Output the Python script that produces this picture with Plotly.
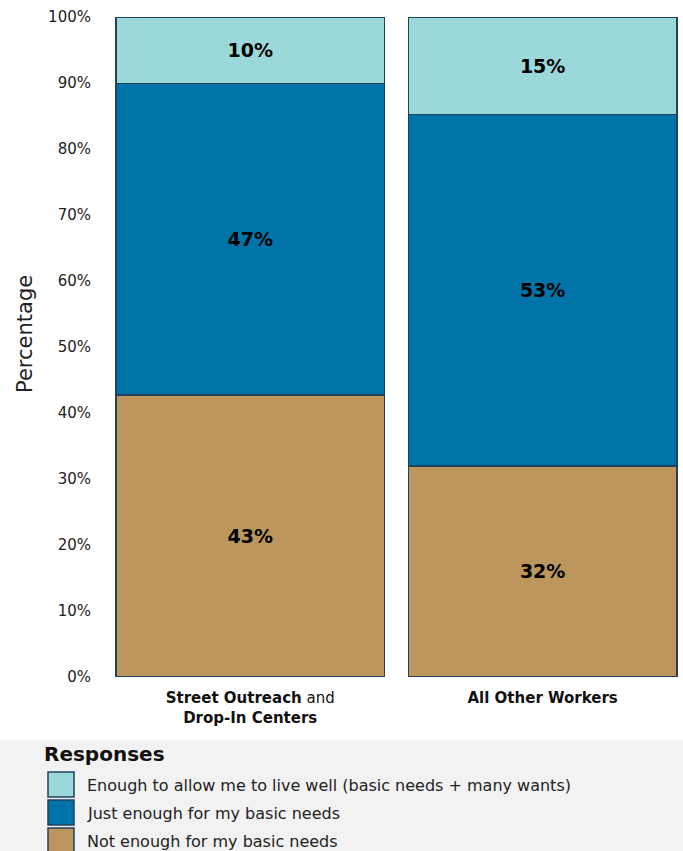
import plotly.graph_objects as go

categories = ["<b>Street Outreach</b> and<br><b>Drop-In Centers</b>", "<b>All Other Workers</b>"]
series_names = [
    "Not enough for my basic needs",
    "Just enough for my basic needs",
    "Enough to allow me to live well (basic needs + many wants)",
]
not_enough = [42.7, 32.0]
just_enough = [47.2, 53.2]
live_well = [10.1, 14.8]
series_values = [not_enough, just_enough, live_well]
colors = ["#BD965E", "#0074A9", "#9AD8DA"]
y_ticks = list(range(0, 101, 10))
y_tick_labels = [f"{v}%" for v in y_ticks]

W_FIG, H_FIG = 683, 851
L, R, T, B = 104, 0, 17, 174
PW = W_FIG - L - R
PH = H_FIG - T - B

def px(x):
    return (x - L) / PW

def py(y):
    return (T + PH - y) / PH

FONT = "DejaVu Sans"

fig = go.Figure()
for name, vals, col in zip(series_names, series_values, colors):
    fig.add_trace(go.Bar(
        x=categories, y=vals, name=name,
        marker=dict(color=col, line=dict(color="#23415C", width=1.5)),
        width=0.918,
        texttemplate="%{y:.0f}%",
        textposition="inside",
        insidetextanchor="middle",
        textangle=0,
        textfont=dict(family=FONT, size=19, color="black", weight="bold"),
        showlegend=False,
    ))

shapes = []
annotations = []
shapes.append(dict(type="rect", xref="paper", yref="paper",
                   x0=px(0), x1=px(W_FIG), y0=py(740), y1=py(H_FIG + 5),
                   fillcolor="#F2F2F2", line=dict(width=0), layer="below"))
annotations.append(dict(xref="paper", yref="paper", x=px(42), y=py(754),
                        text="<b>Responses</b>", showarrow=False,
                        xanchor="left", yanchor="middle",
                        font=dict(family=FONT, size=20, color="#111")))
row_tops = [772, 800, 828]
leg_order = [2, 1, 0]
for top, idx in zip(row_tops, leg_order):
    shapes.append(dict(type="rect", xref="paper", yref="paper",
                       x0=px(48), x1=px(74), y0=py(top), y1=py(top + 25),
                       fillcolor=colors[idx],
                       line=dict(color="#23415C", width=1.5)))
    annotations.append(dict(xref="paper", yref="paper", x=px(85), y=py(top + 13),
                            text=series_names[idx], showarrow=False,
                            xanchor="left", yanchor="middle",
                            font=dict(family=FONT, size=16, color="#222")))
annotations.append(dict(xref="paper", yref="paper", x=px(25), y=py(334),
                        text="Percentage", showarrow=False, textangle=-90,
                        xanchor="center", yanchor="middle",
                        font=dict(family=FONT, size=21, color="#222")))

fig.update_layout(
    barmode="stack",
    width=W_FIG, height=H_FIG,
    margin=dict(l=L, r=R, t=T, b=B, pad=0),
    plot_bgcolor="white", paper_bgcolor="white",
    shapes=shapes, annotations=annotations,
    font=dict(family=FONT, color="#222"),
)
fig.update_xaxes(range=[-0.5, 1.48], showgrid=False, showline=False,
                 ticks="", ticklabelstandoff=10,
                 tickfont=dict(family=FONT, size=15, color="#111"))
fig.update_yaxes(range=[0, 100], tickmode="array", tickvals=y_ticks,
                 ticktext=y_tick_labels,
                 showgrid=False, zeroline=False, showline=False, ticks="",
                 ticklabelstandoff=12,
                 tickfont=dict(family=FONT, size=15, color="#222"))

fig.write_html(
    "out.html",
    config={"displayModeBar": False},
    post_script="document.body.style.margin='0';document.body.style.overflow='hidden';",
)
